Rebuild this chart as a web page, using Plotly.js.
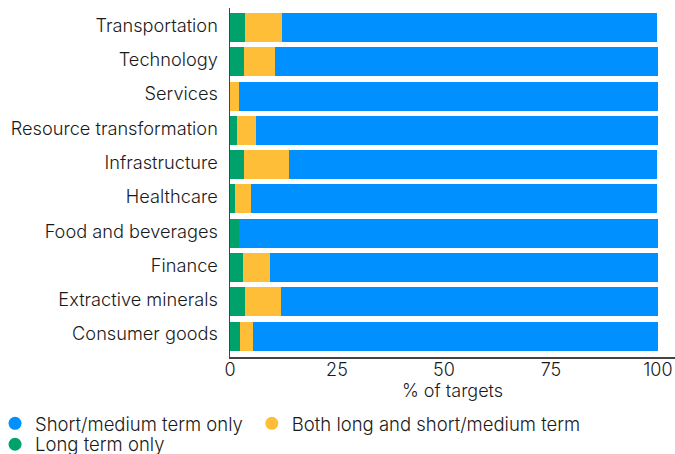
<!DOCTYPE html>
<html><head><meta charset="utf-8">
<script src="https://cdn.plot.ly/plotly-3.0.1.min.js"></script>
<style>html,body{margin:0;padding:0;background:#fff}</style>
</head><body>
<div id="chart" style="width:675px;height:454px"></div>
<script>
const categories = ["Consumer goods","Extractive minerals","Finance","Food and beverages","Healthcare","Infrastructure","Resource transformation","Services","Technology","Transportation"];
const longTerm = [2.3, 3.4, 3.0, 2.0, 1.1, 3.2, 1.6, 0.0, 3.2, 3.4];
const both     = [3.0, 8.5, 6.3, 0.0, 3.7, 10.7, 4.4, 2.0, 7.2, 8.7];
const shortMed = [94.7, 88.1, 90.7, 98.0, 94.9, 85.8, 94.0, 98.0, 89.6, 87.6];
const xTicks = [0, 25, 50, 75, 100];

const cBlue = "#0090ff", cYellow = "#ffbe37", cGreen = "#00a26b";
const font = "Inter, 'Noto Sans', sans-serif";
const txt = "#1a1a1a";
const fs = 18.5;

const traces = [
  {type:"bar", orientation:"h", y:categories, x:longTerm, name:"Long term only", marker:{color:cGreen}, showlegend:false, hoverinfo:"x"},
  {type:"bar", orientation:"h", y:categories, x:both, name:"Both long and short/medium term", marker:{color:cYellow}, showlegend:false, hoverinfo:"x"},
  {type:"bar", orientation:"h", y:categories, x:shortMed, name:"Short/medium term only", marker:{color:cBlue}, showlegend:false, hoverinfo:"x"},
  {type:"scatter", mode:"markers", x:[null], y:[null], name:"Short/medium term only", marker:{color:cBlue, size:13, symbol:"circle"}, legend:"legend"},
  {type:"scatter", mode:"markers", x:[null], y:[null], name:"Both long and short/medium term", marker:{color:cYellow, size:13, symbol:"circle"}, legend:"legend2"},
  {type:"scatter", mode:"markers", x:[null], y:[null], name:"Long term only", marker:{color:cGreen, size:13, symbol:"circle"}, legend:"legend3"}
];

const legFont = {size:fs, color:txt, weight:300};
const layout = {
  width:675, height:454,
  margin:{l:230, r:0, t:8, b:97, autoexpand:false},
  barmode:"stack", bargap:0.154,
  paper_bgcolor:"#fff", plot_bgcolor:"#fff",
  font:{family:font, size:fs, color:txt, weight:300},
  xaxis:{range:[0,104], tickvals:xTicks, ticktext:xTicks.map(String),
    showgrid:false, zeroline:false, showline:true, linecolor:"#444", linewidth:1.5,
    ticks:"", ticklabelstandoff:-4, tickfont:{size:18, color:txt, weight:300},
    title:{text:"% of targets", font:{size:18, color:txt, weight:300}, standoff:2}},
  yaxis:{type:"category", categoryorder:"array", categoryarray:categories, range:[-0.61,9.57],
    showgrid:false, zeroline:false, showline:true, linecolor:"#444", linewidth:1.5,
    ticks:"", ticklen:0, ticklabelstandoff:7, ticklabelshift:-2, tickfont:{size:18.2, color:txt, weight:300}},
  showlegend:true,
  legend:{orientation:"h", x:-0.528, xanchor:"left", y:-0.137, yanchor:"top", font:legFont, bgcolor:"rgba(0,0,0,0)"},
  legend2:{orientation:"h", x:0.049, xanchor:"left", y:-0.137, yanchor:"top", font:legFont, bgcolor:"rgba(0,0,0,0)"},
  legend3:{orientation:"h", x:-0.528, xanchor:"left", y:-0.197, yanchor:"top", font:legFont, bgcolor:"rgba(0,0,0,0)"}
};

Plotly.newPlot("chart", traces, layout, {displayModeBar:false, staticPlot:true});
</script>
</body></html>
